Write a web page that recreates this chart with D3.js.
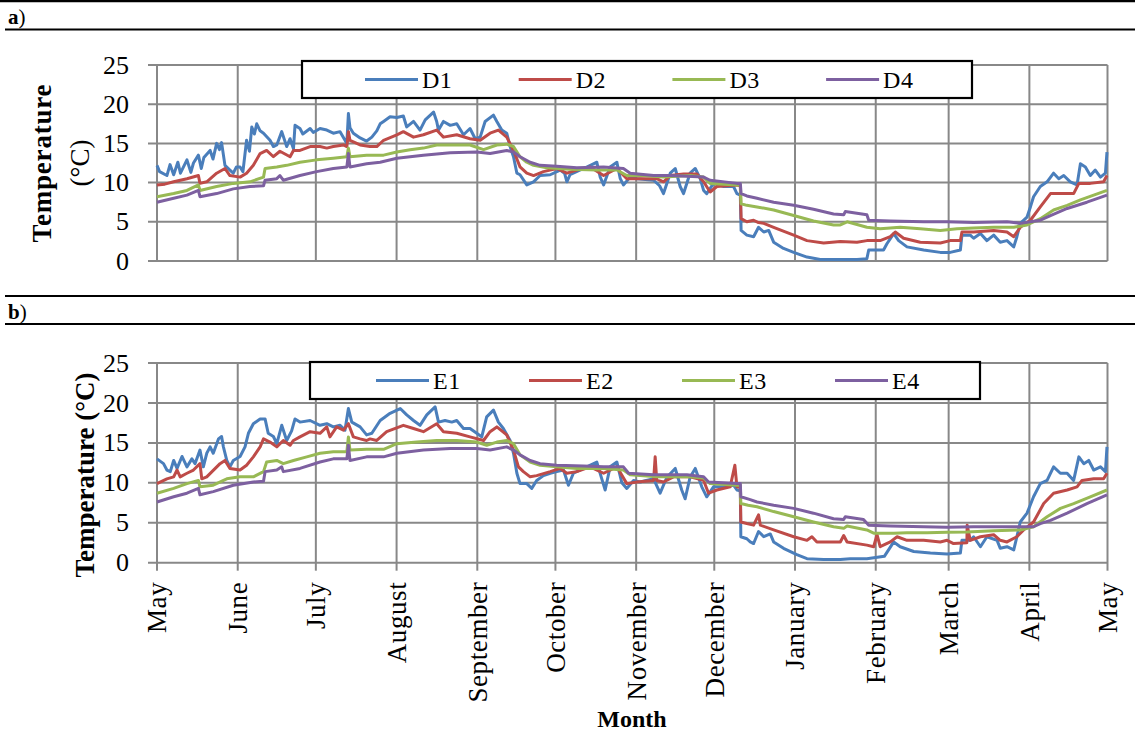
<!DOCTYPE html>
<html><head><meta charset="utf-8">
<script src="https://cdn.jsdelivr.net/npm/d3@7"></script>
<style>
body{margin:0;background:#fff;}
svg{display:block;font-family:"Liberation Serif","Times New Roman",serif;}
</style>
</head><body>
<svg id="c" width="1135" height="733"></svg>
<script>
// ---------- DATA ----------
const monthLabels = ["May","June","July","August","September","October","November","December","January","February","March","April","May"];
const monthStartDays = [0,31,61,92,123,153,184,214,245,276,304,335,365];
const yTicks = [0,5,10,15,20,25];
const namesA = ["D1","D2","D3","D4"];
const namesB = ["E1","E2","E3","E4"];
const seriesColors = ["#4A7EBB","#BE4B48","#98B954","#7D60A0"];

// [day since 1 May, temperature °C]
const D1 = [[0,12.2],[1,11.4],[3.8,10.9],[5,12.3],[6.4,11.0],[8,12.6],[9,11.2],[11.5,12.9],[13,11.3],[14,12.5],[15.9,13.5],[17,11.8],[18,13.2],[20.4,14.1],[21.5,13.0],[22.9,15.0],[24,14.2],[24.8,15.1],[26.1,12.2],[28,11.6],[29.3,11.2],[30.5,12.0],[31.9,12.0],[33,11.4],[34.4,15.4],[35.5,14.0],[36.4,17.1],[37.4,16.2],[38.3,17.5],[39.6,16.6],[40.9,16.3],[43.4,15.4],[44.7,14.6],[46,14.8],[47.9,16.5],[49.8,14.6],[51.1,15.6],[52.4,14.3],[53,17.3],[54.9,16.9],[56,16.2],[58.8,16.9],[60,16.4],[62.6,16.9],[65.2,16.7],[67.7,16.3],[70.3,16.5],[72.2,15.4],[72.9,15.0],[73.5,18.8],[74.1,17.0],[75.4,16.3],[78,15.7],[80.5,15.3],[82.5,15.8],[84.4,16.6],[85.7,17.5],[87,17.8],[89.5,18.4],[92.1,18.3],[94.6,18.5],[95.9,17.1],[98.5,17.8],[101,16.7],[103,18.0],[106.2,19.0],[107.4,17.8],[108.1,16.7],[110,17.8],[112.6,17.3],[115.1,17.5],[117.7,16.1],[120.2,16.9],[122.2,15.6],[124.1,15.8],[126,17.8],[129.2,18.6],[130.5,17.8],[132.4,16.7],[134.3,16.3],[135.6,14.6],[136.9,13.3],[138.2,11.2],[139.4,11.0],[142,9.7],[144.6,10.1],[147.1,10.9],[151,11.0],[154.8,11.6],[156.5,11.2],[157.4,10.1],[158.6,11.0],[163.8,11.8],[167.6,12.4],[168.9,12.6],[170.2,10.7],[171.5,9.7],[174,12.0],[176.6,12.6],[177.9,10.5],[179.1,9.7],[181.7,10.7],[184.3,10.5],[190.7,10.3],[193,9.6],[194.5,8.6],[197.1,11.2],[199,11.8],[200.9,9.5],[202.2,8.6],[204.7,11.2],[206.7,11.8],[208.6,10.5],[209.9,9.0],[211.1,8.6],[213.7,9.9],[217.6,9.5],[221.4,9.5],[222.7,8.6],[224,8.4],[224.3,3.9],[226.5,3.3],[229.1,3.1],[231,4.3],[233,3.7],[234.9,3.9],[236.8,2.4],[240.6,1.6],[244.5,1.1],[249.6,0.5],[254.7,0.2],[262.4,0.2],[268.8,0.2],[272.6,0.3],[273.3,1.4],[279,1.4],[280.3,2.2],[282.9,3.5],[284.8,2.6],[288,1.8],[294.4,1.4],[300.8,1.1],[304.6,1.1],[308.5,1.4],[309.1,3.3],[312.3,3.3],[313.6,2.9],[316.2,3.5],[318.7,2.6],[321.3,3.3],[323.8,2.4],[326.4,2.6],[329,1.8],[330.2,3.1],[331.5,4.8],[334.1,5.6],[335.4,6.9],[336.6,8.2],[339.2,9.5],[341.8,10.1],[344.3,11.2],[346.3,10.5],[348.2,10.9],[350.7,10.1],[353.3,9.7],[354.6,12.4],[356.5,12.0],[358.4,10.9],[360.3,11.6],[362.3,10.7],[364.2,11.2],[364.8,13.9]];
const D2 = [[0,9.7],[3,9.8],[6.4,10.1],[11.5,10.5],[15.9,10.9],[16.5,9.9],[19.1,10.1],[22.9,11.2],[26.1,11.8],[28,10.9],[31.9,10.7],[34.4,11.2],[37,12.2],[39.6,13.7],[42.1,14.1],[44.7,13.3],[47.2,14.0],[51.1,13.3],[52.4,14.1],[54.9,14.1],[58.8,14.6],[62.6,14.6],[65.2,14.4],[67.7,14.6],[71.6,14.8],[72.9,14.6],[73.5,16.5],[74.1,15.4],[78,14.8],[81.8,14.6],[84.4,14.6],[87,15.4],[92.1,16.1],[94.6,16.5],[98.5,15.8],[102.3,16.1],[107.4,16.7],[110,15.8],[115.1,16.1],[120.2,15.6],[124.1,15.4],[127.9,16.3],[131.1,16.7],[134.3,15.8],[136.9,14.1],[139.4,12.0],[142,11.2],[144.6,10.9],[148.4,11.4],[153.5,11.8],[157.4,11.2],[161.2,11.6],[166.3,12.0],[171.5,10.9],[176.6,11.8],[180.4,10.5],[184.3,10.5],[191.9,10.5],[194.5,10.1],[197.1,10.9],[202.2,11.1],[207.3,11.1],[209.9,10.1],[212.4,8.8],[215,9.5],[222.7,9.7],[224,9.6],[224.3,5.4],[226.5,5.0],[229.1,5.2],[231,4.9],[233,4.8],[236.8,4.3],[244.5,3.3],[249.6,2.6],[256,2.3],[262.4,2.5],[268.8,2.4],[272.6,2.6],[277.7,2.6],[281.6,3.1],[283.5,3.7],[286.7,2.9],[293.1,2.4],[300.8,2.3],[304.6,2.6],[308.5,2.6],[309.1,3.7],[313.6,3.7],[321.3,3.9],[326.4,3.7],[329,3.1],[331.5,4.3],[335.4,5.2],[339.2,6.9],[343.1,8.6],[346.9,8.6],[352,8.6],[354,9.9],[358.4,9.9],[363.5,10.1],[364.8,10.9]];
const D3 = [[0,8.2],[6.4,8.6],[11.5,9.0],[15.9,9.7],[16.5,9.0],[22.9,9.5],[29.3,9.9],[35.7,10.1],[40.9,10.7],[41.5,11.8],[46,12.0],[49.8,12.2],[54.9,12.6],[61.3,12.9],[67.7,13.1],[72.9,13.3],[73.5,14.4],[74.1,13.3],[80.5,13.5],[87,13.5],[92.1,13.9],[97.2,14.2],[102.3,14.4],[107.4,14.8],[113.8,14.8],[120.2,14.8],[125.4,14.2],[130.5,14.8],[134.3,14.9],[136.9,14.6],[139.4,13.3],[142,12.6],[144.6,12.2],[149.7,11.9],[158.6,11.7],[168.9,11.6],[176.6,11.6],[180.4,10.9],[186.8,10.9],[194.5,10.7],[204.7,10.9],[209.9,10.7],[212.4,9.9],[222.7,9.7],[224,9.7],[224.3,7.3],[226.5,7.1],[230.4,6.9],[236.8,6.5],[244.5,5.8],[252.1,5.1],[259.8,4.6],[262.4,4.6],[265,5.0],[272.6,4.3],[277.7,4.1],[285.4,4.3],[293.1,4.1],[300.8,3.9],[307.2,4.1],[313.6,4.2],[321.3,4.3],[329,4.3],[334.1,4.6],[339.2,5.4],[344.3,6.5],[349.5,7.1],[354.6,7.8],[359.7,8.4],[364.8,9.0]];
const D4 = [[0,7.5],[6.4,8.0],[11.5,8.4],[15.9,9.0],[16.5,8.2],[22.9,8.6],[29.3,9.2],[35.7,9.5],[40.9,9.6],[41.5,10.3],[46,10.5],[47.2,10.9],[48.5,10.3],[54.9,10.9],[61.3,11.4],[67.7,11.8],[72.9,12.0],[73.5,13.7],[74.1,12.0],[80.5,12.4],[85.7,12.6],[92.1,13.1],[102.3,13.5],[112.6,13.8],[122.8,13.9],[127.9,13.7],[134.3,14.1],[136.9,13.9],[139.4,13.3],[143.3,12.6],[147.1,12.2],[153.5,12.1],[161.2,11.9],[171.5,12.0],[179.1,11.8],[181.7,11.2],[190.7,10.9],[197.1,10.9],[209.9,10.7],[212.4,10.3],[222.7,9.9],[224,9.9],[224.3,8.6],[226.5,8.3],[230.4,8.0],[236.8,7.5],[244.5,7.1],[252.1,6.6],[259.8,6.0],[263.7,5.9],[264.3,6.3],[272.6,5.9],[273.3,5.2],[281.6,5.1],[294.4,5.0],[303.4,5.0],[313.6,4.9],[326.4,5.0],[331.5,4.8],[335.4,5.0],[339.2,5.2],[343.1,5.8],[349.5,6.7],[357.1,7.5],[364.8,8.4]];

const E1 = [[0,13.0],[2.5,12.4],[3.8,11.6],[5.1,11.4],[6.4,12.8],[7.7,11.8],[9.6,13.3],[11.5,12.0],[13.4,13.0],[14.6,12.4],[16.5,14.1],[17.8,12.0],[19.1,13.7],[20.4,14.5],[21.6,13.7],[23.6,15.5],[24.8,15.8],[25.5,14.5],[26.8,12.8],[28,12.0],[29.3,12.8],[31.9,13.3],[33.8,14.5],[35.1,16.2],[37,17.4],[39.6,18.0],[41.5,18.0],[42.7,16.2],[44.7,15.8],[46,14.9],[47.9,17.2],[49.8,15.3],[51.7,16.5],[53,18.0],[54.9,17.6],[58.8,17.8],[62.6,17.2],[65.2,17.4],[67.7,17.0],[70.3,17.2],[72.2,16.6],[73.5,19.3],[74.8,17.6],[78,17.0],[80.5,16.0],[82.5,16.2],[85.7,17.8],[89.5,18.7],[93.4,19.3],[95.9,18.5],[98.5,17.8],[101,17.2],[103.6,18.5],[106.8,19.5],[108.1,17.6],[110.6,17.8],[113.2,17.6],[115.1,17.8],[117.7,16.8],[120.2,16.8],[122.8,16.2],[124.7,15.75],[126.6,18.25],[129.2,19.1],[131.1,17.6],[133,16.8],[135.6,15.3],[136.9,13.7],[138.2,11.2],[139.4,9.9],[142,9.9],[143.9,9.3],[145.8,10.3],[148.4,10.9],[151,11.2],[153.5,11.4],[156.1,11.6],[158,9.7],[159.9,11.2],[165,12.0],[168.9,12.6],[170.8,10.5],[172.1,9.1],[174,12.0],[176.6,12.6],[178.5,10.0],[180.4,9.3],[183,10.3],[185.5,10.1],[190.7,10.5],[193.2,8.7],[195.8,10.7],[199,11.8],[201.5,9.1],[202.8,8.0],[204.7,10.7],[206.7,11.8],[209.2,9.5],[211.1,8.25],[213.7,9.5],[217.6,9.5],[221.4,9.7],[222.7,9.1],[224,9.0],[224.2,3.25],[226.5,3.0],[227.8,2.6],[229.1,2.4],[231,3.9],[233,3.25],[235.5,3.6],[236.8,2.6],[240.6,1.8],[245.7,1.0],[249.6,0.5],[256,0.4],[262.4,0.4],[266.2,0.5],[272.6,0.5],[279.3,0.8],[281.3,1.8],[282.9,2.6],[285.4,2.0],[290.6,1.4],[297,1.2],[303.4,1.1],[308.5,1.2],[309.1,2.8],[312.3,2.8],[313.6,3.25],[316.2,2.0],[318.7,3.25],[322.6,2.8],[323.8,1.8],[326.4,2.0],[329,1.6],[330.2,3.25],[331.5,5.1],[334.1,6.2],[336.6,8.25],[339.2,9.9],[341.8,10.3],[344.3,12.0],[346.9,11.2],[349.5,11.2],[352,10.3],[354,13.25],[355.9,12.4],[357.8,12.8],[359.7,11.6],[362.3,12.0],[364.2,11.4],[364.8,14.5]];
const E2 = [[0,9.9],[3.8,10.5],[6.4,10.75],[7.7,11.6],[8.9,10.75],[11.5,11.2],[14,11.6],[16.5,12.4],[17.2,10.5],[19.1,10.75],[24.2,12.4],[26.1,12.8],[28,11.8],[31.9,11.6],[34.4,12.2],[37,13.25],[39.6,14.5],[40.9,15.5],[43.4,15.1],[46,14.5],[48.5,15.3],[51.1,14.7],[52.4,15.3],[54.9,15.75],[58.8,16.4],[62.6,16.2],[65.2,17.0],[66.4,15.75],[69,17.0],[71.6,16.6],[73.5,17.4],[75.4,15.75],[78,15.5],[80.5,15.3],[81.8,15.5],[84.4,15.3],[88.2,16.4],[94.6,17.2],[98.5,16.8],[102.3,16.4],[107.4,17.4],[110,16.4],[115.1,16.2],[120.2,15.75],[125.4,15.3],[127.9,16.4],[130.5,17.0],[134.3,16.0],[136.9,14.1],[138.8,12.0],[140.7,11.4],[143.3,10.75],[145.8,10.9],[151,11.4],[154.8,11.8],[157.4,11.2],[161.2,11.4],[166.3,12.0],[171.5,11.2],[176.6,12.0],[180.4,9.9],[184.3,10.1],[190.7,10.3],[191.3,13.25],[191.9,10.3],[194.5,10.1],[198.3,10.75],[204.7,10.75],[209.9,10.3],[211.8,8.7],[215,9.1],[220.1,9.5],[221.9,12.2],[222.7,9.5],[224,9.4],[224.2,5.1],[226.5,4.9],[229.1,4.7],[231,6.0],[231.7,4.7],[236.8,4.1],[244.5,3.25],[249.6,2.8],[251.5,3.25],[253.4,2.6],[262.4,2.6],[263.7,3.4],[265,2.6],[272.6,2.2],[275.2,2.0],[276.5,3.5],[277.7,2.0],[281.6,2.6],[284.2,3.25],[288,2.8],[294.4,2.8],[300.8,2.6],[303.4,2.8],[305.9,2.4],[311,2.5],[311.1,4.7],[312.3,2.8],[316.2,3.25],[321.3,3.5],[323.8,2.8],[326.4,2.6],[330.2,3.25],[332.8,4.1],[336.6,5.1],[340.5,7.4],[344.3,8.7],[349.5,9.1],[353.3,9.5],[355.2,10.3],[359.7,10.5],[363.5,10.5],[364.8,11.2]];
const E3 = [[0,8.7],[6.4,9.3],[11.5,9.9],[15.9,10.3],[16.5,9.5],[21.6,9.7],[26.8,10.5],[31.9,10.75],[37,10.75],[40.9,11.4],[42.1,12.6],[46,12.8],[48.5,12.4],[52.4,12.8],[57.5,13.25],[62.6,13.7],[67.7,13.9],[72.9,13.9],[73.5,15.75],[74.1,14.1],[80.5,14.2],[87,14.2],[92.1,14.9],[99.8,15.1],[107.4,15.3],[115.1,15.3],[122.8,15.1],[126.6,14.7],[130.5,15.1],[134.3,15.3],[136.9,14.9],[139.4,13.5],[143.3,12.6],[147.1,12.2],[153.5,12.0],[161.2,11.8],[171.5,11.8],[179.1,11.6],[181.7,11.0],[191.9,10.75],[204.7,10.75],[209.9,10.6],[212.4,9.9],[222.7,9.7],[224,9.7],[224.2,7.4],[227,7.2],[230.4,7.0],[236.8,6.4],[244.5,5.75],[252.1,5.1],[259.8,4.5],[263.7,4.3],[265,4.6],[272.6,4.1],[275.2,3.7],[282.9,3.7],[288,3.75],[295.7,3.75],[303.4,3.8],[311,3.85],[321.3,4.0],[331.5,4.1],[336.6,4.5],[341.8,5.75],[346.9,6.8],[352,7.4],[358.4,8.25],[364.8,9.1]];
const E4 = [[0,7.6],[6.4,8.25],[11.5,8.7],[15.9,9.3],[16.5,8.5],[21.6,8.9],[29.3,9.7],[37,10.1],[40.9,10.2],[41.5,11.4],[46,11.6],[47.9,12.0],[48.5,11.4],[54.9,11.8],[62.6,12.6],[67.7,13.0],[72.9,13.0],[73.5,14.7],[74.1,12.8],[80.5,13.25],[87,13.25],[92.1,13.7],[102.3,14.1],[112.6,14.3],[122.8,14.3],[127.9,14.1],[134.3,14.5],[136.9,14.1],[139.4,13.5],[143.3,12.8],[147.1,12.4],[153.5,12.2],[163.8,12.1],[171.5,12.0],[179.1,12.0],[181.1,11.2],[190.7,11.0],[203.5,11.0],[209.9,10.75],[211.8,10.1],[222.7,9.9],[224,9.9],[224.2,8.25],[227.8,7.9],[230.4,7.6],[236.8,7.2],[244.5,6.8],[252.1,6.2],[259.8,5.5],[263.7,5.4],[264.3,5.75],[271.3,5.4],[273.3,4.7],[281.6,4.6],[294.4,4.5],[303.4,4.45],[313.6,4.5],[326.4,4.5],[331.5,4.5],[336.6,4.5],[339.2,4.9],[343.1,5.3],[349.5,6.2],[357.1,7.4],[364.8,8.5]];

// ---------- DRAW ----------
const svg = d3.select("#c");
const W = 1135;
const x = d3.scaleLinear().domain([0,365]).range([157,1107.5]);
const gridColor = "#888888";

// horizontal rules and panel labels
[[0,1.2],[5,29.5],[5,296],[5,324]].forEach(([x0,y])=>{
  svg.append("line").attr("x1",x0).attr("x2",W).attr("y1",y).attr("y2",y)
    .attr("stroke","#000").attr("stroke-width",2.2);
});
function panelLabel(txt, y){
  const t = svg.append("text").attr("x",8).attr("y",y).attr("font-size",21);
  t.append("tspan").attr("font-weight","bold").text(txt);
  t.append("tspan").text(")");
}
panelLabel("a",24);
panelLabel("b",319);

function drawPanel(cfg){
  const y = d3.scaleLinear().domain([0,25]).range([cfg.yBottom,cfg.yTop]);
  const g = svg.append("g");
  g.selectAll(".hg").data(yTicks).join("line")
    .attr("x1",148).attr("x2",x(365)).attr("y1",d=>y(d)).attr("y2",d=>y(d))
    .attr("stroke",gridColor).attr("stroke-width",2);
  g.selectAll(".vg").data(monthStartDays).join("line")
    .attr("x1",d=>x(d)).attr("x2",d=>x(d)).attr("y1",y(25)).attr("y2",y(0)+(cfg.xTicks?8:0))
    .attr("stroke",gridColor).attr("stroke-width",2);
  g.selectAll(".yl").data(yTicks).join("text")
    .attr("x",129).attr("y",d=>y(d)).attr("dy","0.33em").attr("text-anchor","end")
    .attr("font-size",26).text(d=>d);
  const line = d3.line().x(d=>x(d[0])).y(d=>y(d[1]));
  cfg.series.forEach((s,i)=>{
    g.append("path").datum(s).attr("d",line).attr("fill","none")
      .attr("stroke",seriesColors[i]).attr("stroke-width",3).attr("stroke-linejoin","round");
  });
  const L = cfg.legend;
  g.append("rect").attr("x",L.x).attr("y",L.y).attr("width",L.w).attr("height",L.h)
    .attr("fill","#fff").attr("stroke","#000").attr("stroke-width",2.2);
  cfg.names.forEach((n,i)=>{
    const lx = L.first + i*L.step;
    const ly = L.y + L.h/2;
    g.append("line").attr("x1",lx).attr("x2",lx+53).attr("y1",ly).attr("y2",ly)
      .attr("stroke",seriesColors[i]).attr("stroke-width",3);
    g.append("text").attr("x",lx+57).attr("y",ly).attr("dy","0.36em")
      .attr("font-size",24).attr("letter-spacing",0.5).text(n);
  });
  if(cfg.xTicks){
    g.selectAll(".xl").data(monthStartDays).join("text")
      .attr("transform",(d)=>`translate(${x(d)},${y(0)+19}) rotate(-90)`)
      .attr("dy","0.35em").attr("text-anchor","end").attr("font-size",27)
      .attr("letter-spacing",0.6)
      .text((d,i)=>monthLabels[i]);
  }
}

drawPanel({yTop:65,yBottom:261,series:[D1,D2,D3,D4],names:namesA,xTicks:false,
  legend:{x:302,y:61,w:670,h:37,first:365,step:153.7}});
drawPanel({yTop:363,yBottom:562.7,series:[E1,E2,E3,E4],names:namesB,xTicks:true,
  legend:{x:310,y:362,w:670,h:37,first:376,step:153}});

svg.append("text").attr("transform","translate(51,163) rotate(-90)")
  .attr("text-anchor","middle").attr("font-size",27).attr("font-weight","bold")
  .attr("letter-spacing",0.8).text("Temperature");
svg.append("text").attr("transform","translate(89,163) rotate(-90)")
  .attr("text-anchor","middle").attr("font-size",27).text("(°C)");
svg.append("text").attr("transform","translate(94,475) rotate(-90)")
  .attr("text-anchor","middle").attr("font-size",27).attr("font-weight","bold").text("Temperature (°C)");
svg.append("text").attr("x",632).attr("y",727).attr("text-anchor","middle")
  .attr("font-size",24).attr("font-weight","bold").text("Month");
</script>
</body></html>
